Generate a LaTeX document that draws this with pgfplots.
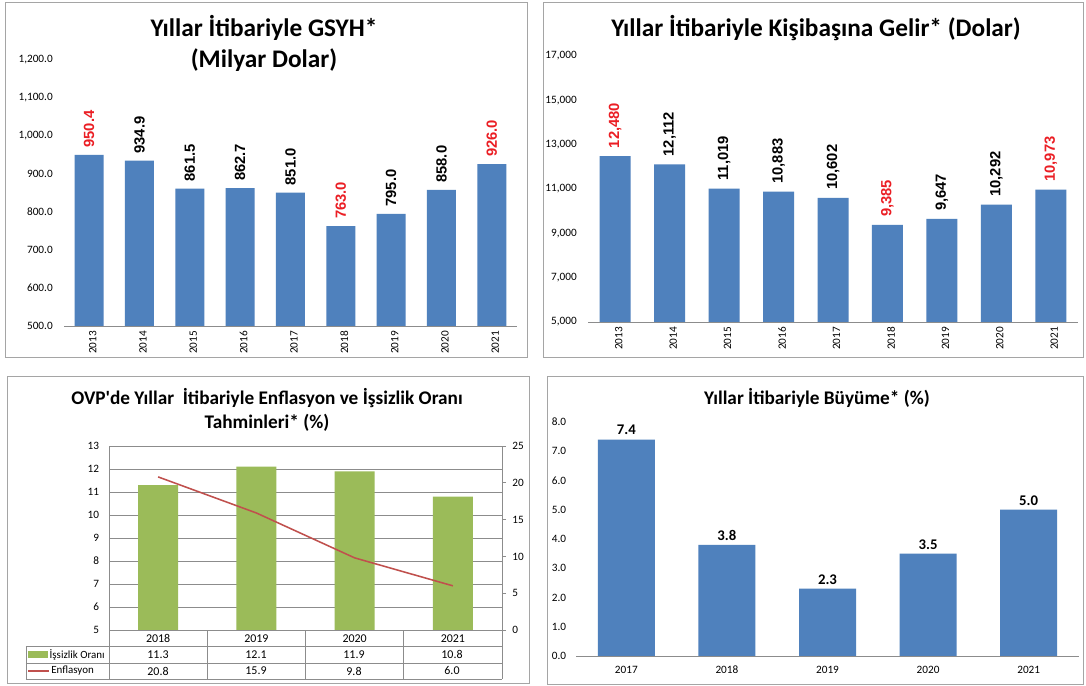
\documentclass[border=0pt]{standalone}
\usepackage{fontspec}
\setmainfont{Carlito}
\newfontfamily\arialf{Liberation Sans}
\usepackage{pgfplots}
\pgfplotsset{compat=1.18}

\definecolor{barblue}{RGB}{79,129,189}
\definecolor{bargreen}{RGB}{155,187,89}
\definecolor{linered}{RGB}{192,80,77}
\definecolor{labred}{RGB}{235,30,36}
\definecolor{framegray}{RGB}{165,165,165}
\definecolor{gridgray}{RGB}{140,140,140}

\newcommand\titlebig{\fontsize{18}{21}\selectfont\bfseries}
\newcommand\titlesmall{\fontsize{13.7}{16}\selectfont\bfseries}
\newcommand\valfont{\arialf\fontsize{10.5}{12}\selectfont\bfseries}

\pgfplotsset{
  /pgf/number format/assume math mode=true,
  panel/.style={
    anchor=south west, scale only axis, clip=false,
    ybar, bar shift=0pt,
    scaled y ticks=false,
    axis line style={draw=none},
    major tick length=0pt,
    tick label style={font=\fontsize{8}{9}\selectfont},
  },
}

\begin{document}
\begin{tikzpicture}
\path[fill=white] (0,0) rectangle (27.15cm,17.15cm);

% panel frames
\draw[framegray, line width=0.7pt] (0.125cm,8.2cm) rectangle (13.175cm,17.075cm);
\draw[framegray, line width=0.7pt] (13.575cm,8.2cm) rectangle (27.075cm,17.075cm);
\draw[framegray, line width=0.7pt] (0.175cm,0.075cm) rectangle (13.225cm,7.725cm);
\draw[framegray, line width=0.7pt] (13.675cm,0.05cm) rectangle (27.075cm,7.725cm);

% titles
\node[font=\titlebig] at (6.6cm,16.45cm) {Yıllar İtibariyle GSYH*};
\node[font=\titlebig] at (6.6cm,15.65cm) {(Milyar Dolar)};
\node[font=\titlebig] at (20.4cm,16.45cm) {Yıllar İtibariyle Kişibaşına Gelir* (Dolar)};
\node[font=\titlesmall] at (6.675cm,7.2cm) {OVP\textquotesingle de Yıllar\ \ İtibariyle Enflasyon ve İşsizlik Oranı};
\node[font=\titlesmall] at (6.675cm,6.58cm) {Tahminleri* (\%)};
\node[font=\titlesmall] at (20.425cm,7.2cm) {Yıllar İtibariyle Büyüme* (\%)};

% ---------- GSYH ----------
\begin{axis}[panel,
  at={(1.6cm,9.0cm)}, width=11.325cm, height=6.65cm,
  xmin=-0.5, xmax=8.5, ymin=500, ymax=1200,
  bar width=0.725cm,
  xtick={0,...,8},
  xticklabels={2013,2014,2015,2016,2017,2018,2019,2020,2021},
  xticklabel style={rotate=90, anchor=east, yshift=-2.5pt},
  ytick={500,600,...,1200},
  yticklabel style={xshift=-4.5pt, /pgf/number format/fixed,
    /pgf/number format/fixed zerofill, /pgf/number format/precision=1},
  nodes near coords={\pgfmathprintnumber[fixed,fixed zerofill,precision=1]{\pgfplotspointmeta}},
  every node near coord/.append style={rotate=90, anchor=west, inner xsep=5pt, inner ysep=0pt, font=\valfont},
]
\addplot[fill=barblue, draw=none, nodes near coords=] coordinates {
  (0,950.4) (1,934.9) (2,861.5) (3,862.7) (4,851.0)
  (5,763.0) (6,795.0) (7,858.0) (8,926.0)};
\addplot[draw=none, fill=none, every node near coord/.append style={text=black}] coordinates {
  (1,934.9) (2,861.5) (3,862.7) (4,851.0) (6,795.0) (7,858.0)};
\addplot[draw=none, fill=none, every node near coord/.append style={text=labred}] coordinates {
  (0,950.4) (5,763.0) (8,926.0)};
\draw[gridgray] (rel axis cs:0,0) -- (rel axis cs:1,0);
\end{axis}

% ---------- Kisibasina gelir ----------
\begin{axis}[panel,
  at={(14.7cm,9.1cm)}, width=12.25cm, height=6.65cm,
  xmin=-0.5, xmax=8.5, ymin=5000, ymax=17000,
  bar width=0.775cm,
  xtick={0,...,8},
  xticklabels={2013,2014,2015,2016,2017,2018,2019,2020,2021},
  xticklabel style={rotate=90, anchor=east, yshift=-2.5pt},
  ytick={5000,7000,...,17000},
  yticklabel style={xshift=-4.5pt, /pgf/number format/fixed, /pgf/number format/precision=0},
  nodes near coords={\pgfmathprintnumber[fixed,precision=0]{\pgfplotspointmeta}},
  every node near coord/.append style={rotate=90, anchor=west, inner xsep=5.5pt, inner ysep=0pt, font=\valfont},
]
\addplot[fill=barblue, draw=none, nodes near coords=] coordinates {
  (0,12480) (1,12112) (2,11019) (3,10883) (4,10602)
  (5,9385) (6,9647) (7,10292) (8,10973)};
\addplot[draw=none, fill=none, every node near coord/.append style={text=black}] coordinates {
  (1,12112) (2,11019) (3,10883) (4,10602) (6,9647) (7,10292)};
\addplot[draw=none, fill=none, every node near coord/.append style={text=labred}] coordinates {
  (0,12480) (5,9385) (8,10973)};
\draw[gridgray] (rel axis cs:0,0) -- (rel axis cs:1,0);
\end{axis}

% ---------- OVP: issizlik (bars, left axis) ----------
\begin{axis}[panel,
  at={(2.725cm,1.4cm)}, width=9.825cm, height=4.6cm,
  xmin=-0.5, xmax=3.5, ymin=5, ymax=13,
  bar width=1.0cm,
  axis line style={draw=gridgray, line width=0.6pt},
  ymajorgrids, grid style={gridgray, line width=0.6pt},
  xtick={0,1,2,3}, xticklabels={2018,2019,2020,2021},
  xticklabel style={font=\fontsize{8.5}{9}\selectfont, anchor=base, yshift=-8.6pt},
  ytick={5,...,13}, ytick pos=left,
  yticklabel style={xshift=-3.5pt},
]
\addplot[fill=bargreen, draw=none] coordinates {(0,11.3) (1,12.1) (2,11.9) (3,10.8)};
\end{axis}

% ---------- OVP: enflasyon (line, right axis) ----------
\begin{axis}[
  anchor=south west, scale only axis, clip=false,
  at={(2.725cm,1.4cm)}, width=9.825cm, height=4.6cm,
  xmin=-0.5, xmax=3.5, ymin=0, ymax=25,
  axis line style={draw=none},
  xtick=\empty,
  ytick={0,5,...,25}, ytick pos=right, yticklabel pos=right,
  tick align=outside, major tick length=0.1cm,
  tick style={gridgray, line width=0.6pt},
  tick label style={font=\fontsize{8}{9}\selectfont},
  yticklabel style={xshift=1pt},
]
\addplot[linered, line width=1.1pt, mark=none] coordinates {(0,20.8) (1,15.9) (2,9.8) (3,6.0)};
\end{axis}

% data table under the OVP chart
\begin{scope}[gridgray, line width=0.6pt]
\draw (0.65cm,1.0cm) -- (12.55cm,1.0cm);
\draw (0.65cm,0.575cm) -- (12.55cm,0.575cm);
\draw (0.65cm,0.175cm) -- (12.55cm,0.175cm);
\draw (0.65cm,0.175cm) -- (0.65cm,1.0cm);
\foreach \xx in {2.725,5.175,7.625,10.075,12.55}
  \draw (\xx cm,0.175cm) -- (\xx cm,1.4cm);
\end{scope}
\fill[bargreen] (0.7cm,0.71cm) rectangle (1.2cm,0.87cm);
\draw[linered, line width=1.1pt] (0.7cm,0.375cm) -- (1.22cm,0.375cm);
\begin{scope}[font=\fontsize{8.5}{10}\selectfont]
\node[anchor=west, inner sep=1pt, font=\fontsize{7.8}{9}\selectfont] at (1.2cm,0.7875cm) {İşsizlik Oranı};
\node[anchor=west, inner sep=1pt, font=\fontsize{7.8}{9}\selectfont] at (1.24cm,0.375cm) {Enflasyon};
\node at (3.95cm,0.7875cm) {11.3};
\node at (6.4cm,0.7875cm) {12.1};
\node at (8.85cm,0.7875cm) {11.9};
\node at (11.3cm,0.7875cm) {10.8};
\node at (3.95cm,0.375cm) {20.8};
\node at (6.4cm,0.375cm) {15.9};
\node at (8.85cm,0.375cm) {9.8};
\node at (11.3cm,0.375cm) {6.0};
\end{scope}

% ---------- Buyume ----------
\begin{axis}[panel,
  at={(14.4cm,0.75cm)}, width=12.575cm, height=5.85cm,
  xmin=-0.5, xmax=4.5, ymin=0, ymax=8,
  bar width=1.425cm,
  xtick={0,...,4}, xticklabels={2017,2018,2019,2020,2021},
  xticklabel style={anchor=base, yshift=-12.3pt},
  ytick={0,...,8},
  yticklabel style={xshift=-3.5pt, /pgf/number format/fixed,
    /pgf/number format/fixed zerofill, /pgf/number format/precision=1},
  nodes near coords={\pgfmathprintnumber[fixed,fixed zerofill,precision=1]{\pgfplotspointmeta}},
  every node near coord/.append style={anchor=south, inner sep=3pt,
    font=\fontsize{10.5}{11}\selectfont\bfseries},
]
\addplot[fill=barblue, draw=none] coordinates {(0,7.4) (1,3.8) (2,2.3) (3,3.5) (4,5.0)};
\draw[gridgray] (rel axis cs:0,0) -- (rel axis cs:1,0);
\end{axis}
\end{tikzpicture}
\end{document}
